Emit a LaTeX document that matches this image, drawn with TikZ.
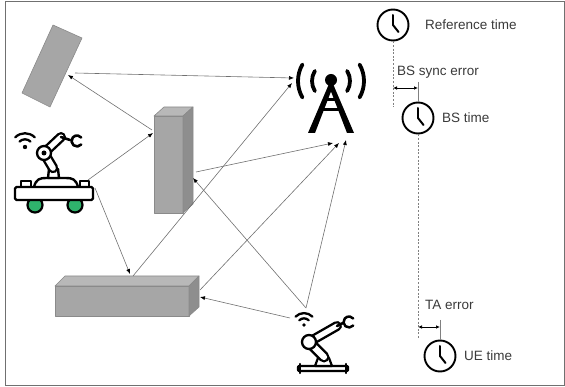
\documentclass[tikz,border=0pt]{standalone}
\usepackage{fontspec}
\setmainfont{Liberation Sans}
\usetikzlibrary{arrows.meta}

\definecolor{boxfront}{HTML}{A6A6A6}
\definecolor{boxtop}{HTML}{B8B8B8}
\definecolor{boxside}{HTML}{8E8E8E}
\definecolor{boxedge}{HTML}{8A8A8A}
\definecolor{wirecol}{HTML}{707070}
\definecolor{wheelgreen}{HTML}{2FB36C}
\definecolor{labelcol}{HTML}{3A3A3A}

\tikzset{
  frame/.style={draw=wirecol, line width=0.9pt},
  solid3d/.style={draw=boxedge, line width=0.6pt, line join=round},
  conn/.style={draw=wirecol, line width=0.6pt,
    -{Latex[length=5pt,width=4pt,color=black]}},
  dimarrow/.style={draw=black, line width=0.7pt,
    {Latex[length=4pt,width=3.5pt]}-{Latex[length=4pt,width=3.5pt]}},
  dashline/.style={draw=gray, line width=0.6pt, dash pattern=on 2pt off 1.6pt},
  tickline/.style={draw=gray, line width=0.6pt},
  clock/.style={circle, draw=black, line width=1.9pt, minimum size=31pt, inner sep=0pt},
  hand/.style={draw=black, line width=2pt, line cap=round},
  lbl/.style={anchor=west, inner sep=0pt, text=labelcol, font=\fontsize{13.5}{16}\selectfont},
  icon/.style={draw=black, line width=2.4pt, line cap=round, line join=round},
  capsule/.style={line width=#1, line cap=round},
}

% outlined capsule: black stroke with a white core
\newcommand{\armseg}[3]{%
  \draw[capsule=#3, black] #1 -- #2;
  \draw[capsule=#3-4.8pt, white] #1 -- #2;}

% wifi sign: centre x, centre y, scale (radii in picture units)
\newcommand{\wifisign}[3]{%
  \fill (#1,#2) circle (2pt*#3);
  \draw[icon, line width=2.3pt] (#1,#2) ++(225:7*#3) arc[start angle=225, end angle=315, radius=7*#3];
  \draw[icon, line width=2.3pt] (#1,#2) ++(225:12.5*#3) arc[start angle=225, end angle=315, radius=12.5*#3];}

\begin{document}
\begin{tikzpicture}[x=1pt, y=-1pt]
\useasboundingbox (0,0) rectangle (565,387);
\draw[frame] (5,1) rectangle (564,385);

% ---------- reflecting objects ----------
% tilted panel
\filldraw[solid3d, fill=boxfront] (53,25) -- (82,38) -- (50,107) -- (22,93) -- cycle;

% upright pillar
\filldraw[solid3d, fill=boxfront] (154,116) rectangle (183,213);
\filldraw[solid3d, fill=boxtop] (154,116) -- (164,107) -- (193,107) -- (183,116) -- cycle;
\filldraw[solid3d, fill=boxside] (183,116) -- (193,107) -- (193,204) -- (183,213) -- cycle;

% low wall
\filldraw[solid3d, fill=boxfront] (55,286) rectangle (189,316);
\filldraw[solid3d, fill=boxtop] (55,286) -- (65,276) -- (199,276) -- (189,286) -- cycle;
\filldraw[solid3d, fill=boxside] (189,286) -- (199,276) -- (199,307) -- (189,316) -- cycle;

% ---------- base station tower ----------
\fill (331,80) circle (6pt);
\fill (328.5,85) -- (333.5,85) -- (354,133) -- (347,133) -- cycle;
\fill (328.5,85) -- (333.5,85) -- (315,133) -- (308,133) -- cycle;
\draw[black, line width=3pt] (323,100) -- (339,100);
\draw[black, line width=3pt] (319,110) -- (343,110);
\draw[icon, line width=3.8pt] (331,81) ++(150:33) arc[start angle=150, end angle=210, radius=33];
\draw[icon, line width=3.8pt] (331,81) ++(148:19) arc[start angle=148, end angle=212, radius=19];
\draw[icon, line width=3.8pt] (331,81) ++(-30:33) arc[start angle=-30, end angle=30, radius=33];
\draw[icon, line width=3.8pt] (331,81) ++(-32:19) arc[start angle=-32, end angle=32, radius=19];

% ---------- mobile robot (AGV) ----------
\wifisign{25}{147}{1.1}
% wheels
\filldraw[fill=wheelgreen, draw=black, line width=2.2pt] (35,205) circle (7.5pt);
\filldraw[fill=wheelgreen, draw=black, line width=2.2pt] (75,205) circle (7.5pt);
% body with bumpers and dome
\filldraw[icon, fill=white] (21,187) rectangle (31,181);
\filldraw[icon, fill=white] (80,187) rectangle (89,181);
\filldraw[icon, fill=white] (34,187) .. controls (36,179) and (40,178) .. (46,178)
  -- (66,178) .. controls (72,178) and (76,179) .. (78,187);
\filldraw[icon, fill=white, rounded corners=1.5pt] (15,187) rectangle (93,200);
% arm
\filldraw[icon, fill=white] (48,178) -- (49,169) -- (58,169) -- (59,178) -- cycle;
\armseg{(53,168)}{(44,153)}{10.5pt}
\armseg{(44,153)}{(61,137)}{10pt}
\draw[icon, line width=2.6pt] (61,137) -- (70,140);
\draw[icon, line width=2.6pt] (77,141) ++(40:5.5) arc[start angle=40, end angle=320, radius=5.5];
\filldraw[fill=white, draw=black, line width=2.3pt] (44,153) circle (7pt);
\fill (44,153) circle (2.5pt);

% ---------- industrial robot arm ----------
\wifisign{304}{325}{0.95}
\draw[icon, line width=2.2pt, rounded corners=1pt] (298,366) rectangle (348,371);
\draw[icon, line width=2.2pt] (300,364) -- (300,373);
\draw[icon, line width=2.2pt] (346,364) -- (346,373);
\filldraw[icon, fill=white, line width=2.2pt] (315,366) -- (318,358) -- (329,358) -- (332,366) -- cycle;
\armseg{(309,342)}{(324,357)}{11pt}
\armseg{(309,342)}{(337,326)}{10pt}
\draw[icon, line width=2.5pt] (337,326) -- (343,323);
\draw[icon, line width=2.5pt] (349,322) ++(40:5.5) arc[start angle=40, end angle=320, radius=5.5];
\filldraw[fill=white, draw=black, line width=2.3pt] (309,342) circle (7pt);

% ---------- connector anchors ----------
\coordinate (tiltin)  at (68,75);
\coordinate (tiltout) at (75,73);
\coordinate (twa) at (294,78);
\coordinate (twb) at (292,83);
\coordinate (twc) at (333,143);
\coordinate (twd) at (339,143);
\coordinate (twe) at (346,140);
\coordinate (pla) at (152,130);
\coordinate (plb) at (153,133);
\coordinate (plc) at (196,172);
\coordinate (pld) at (193,178);
\coordinate (bxa) at (130,274);
\coordinate (bxb) at (133,276);
\coordinate (bxc) at (200,290);
\coordinate (bxd) at (200,297);
\coordinate (agva) at (88,180);
\coordinate (agvb) at (95,188);
\coordinate (rba) at (306,308);
\coordinate (rbb) at (290,318);

% ---------- propagation paths ----------
\draw[conn] (tiltout) -- (twa);
\draw[conn] (pla) -- (tiltin);
\draw[conn] (agva) -- (plb);
\draw[conn] (agvb) -- (bxa);
\draw[conn] (bxb) -- (twb);
\draw[conn] (plc) -- (twc);
\draw[conn] (bxc) -- (twd);
\draw[conn] (rba) -- (twe);
\draw[conn] (rba) -- (pld);
\draw[conn] (rbb) -- (bxd);

% ---------- timing chain ----------
\node[clock] (clkref) at (393,25) {};
\node[clock] (clkbs)  at (418,118) {};
\node[clock] (clkue)  at (440,356) {};
\foreach \c in {clkref,clkbs,clkue}{
  \draw[hand] (\c.center) -- ++(0,-10);
  \draw[hand] (\c.center) -- ++(5.5,7);
}

\node[lbl] (tref) at (425,25) {Reference time};
\node[lbl] (tsync) at (397,72) {BS sync error};
\node[lbl] (tbs) at (442,118) {BS time};
\node[lbl] (tta) at (425,305) {TA error};
\node[lbl] (tue) at (464,356) {UE time};

\coordinate (refend) at (393,107);
\coordinate (bstop) at (418,82);
\coordinate (bsend) at (418,338);
\coordinate (uetop) at (440,320);
\draw[dashline] (clkref.south) -- (refend);
\draw[tickline] (bstop) -- (clkbs.north);
\draw[dashline] (clkbs.south) -- (bsend);
\draw[tickline] (uetop) -- (clkue.north);

\coordinate (synca) at (393,88);
\coordinate (syncb) at (418,88);
\coordinate (taa) at (418,327);
\coordinate (tab) at (440,327);
\draw[dimarrow] (synca) -- (syncb);
\draw[dimarrow] (taa) -- (tab);
\end{tikzpicture}
\end{document}
